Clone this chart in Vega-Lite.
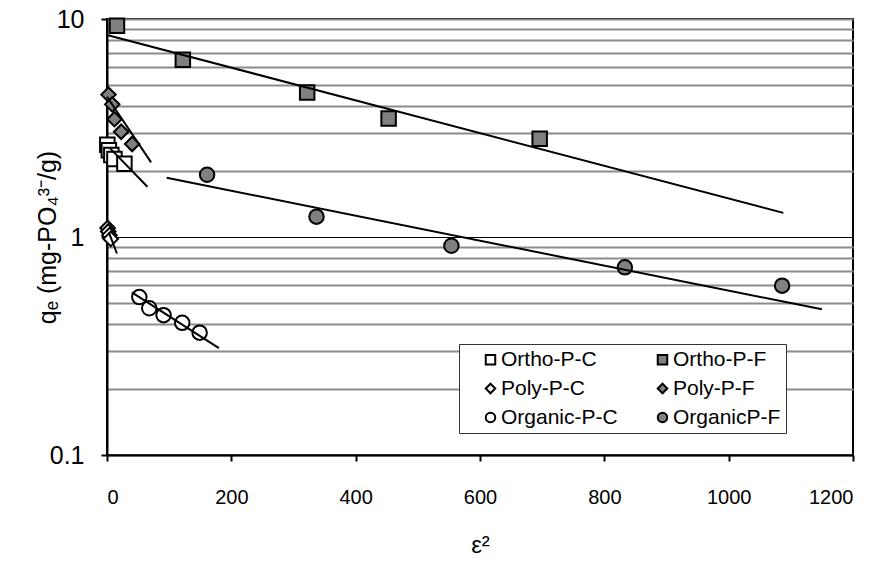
{
  "$schema": "https://vega.github.io/schema/vega-lite/v6.json",
  "width": 746,
  "height": 436,
  "autosize": "none",
  "padding": {"left": 107, "top": 19, "right": 40, "bottom": 119},
  "background": "white",
  "config": {
    "font": "Liberation Sans",
    "view": {"stroke": "black", "strokeWidth": 2},
    "axis": {"domainColor": "black", "domainWidth": 2, "tickColor": "black", "tickWidth": 2, "labelColor": "black", "titleColor": "black", "labelFont": "Liberation Sans", "titleFont": "Liberation Sans", "titleFontWeight": "normal"},
    "legend": {"title": "\u2800", "titleOrient": "right", "titleFontSize": 21, "titlePadding": 38, "titleColor": "white", "orient": "none", "legendX": 352, "legendY": 325, "direction": "horizontal", "columns": 2, "gridAlign": "all", "columnPadding": 18, "rowPadding": 7, "labelFontSize": 21, "labelColor": "black", "symbolSize": 90, "symbolStrokeWidth": 2, "symbolOffset": 16, "labelOffset": 0, "padding": 5, "strokeColor": "#333", "fillColor": "white", "cornerRadius": 0}
  },
  "datasets": {
    "pts": [
      {"series": "Ortho-P-C", "e2": 0.5, "qe": 2.65},
      {"series": "Ortho-P-C", "e2": 3, "qe": 2.5},
      {"series": "Ortho-P-C", "e2": 7, "qe": 2.38},
      {"series": "Ortho-P-C", "e2": 12, "qe": 2.28},
      {"series": "Ortho-P-C", "e2": 28, "qe": 2.17},
      {"series": "Ortho-P-F", "e2": 16, "qe": 9.3},
      {"series": "Ortho-P-F", "e2": 122, "qe": 6.5},
      {"series": "Ortho-P-F", "e2": 322, "qe": 4.6},
      {"series": "Ortho-P-F", "e2": 453, "qe": 3.5},
      {"series": "Ortho-P-F", "e2": 696, "qe": 2.82},
      {"series": "Poly-P-C", "e2": 1, "qe": 1.1},
      {"series": "Poly-P-C", "e2": 2, "qe": 1.06},
      {"series": "Poly-P-C", "e2": 4, "qe": 1.02},
      {"series": "Poly-P-C", "e2": 6, "qe": 0.98},
      {"series": "Poly-P-F", "e2": 2.4, "qe": 4.5},
      {"series": "Poly-P-F", "e2": 8.4, "qe": 4.06},
      {"series": "Poly-P-F", "e2": 12, "qe": 3.47},
      {"series": "Poly-P-F", "e2": 22.8, "qe": 3.04},
      {"series": "Poly-P-F", "e2": 40.5, "qe": 2.67},
      {"series": "Organic-P-C", "e2": 52, "qe": 0.53},
      {"series": "Organic-P-C", "e2": 68, "qe": 0.471},
      {"series": "Organic-P-C", "e2": 91, "qe": 0.438},
      {"series": "Organic-P-C", "e2": 121, "qe": 0.404},
      {"series": "Organic-P-C", "e2": 149, "qe": 0.364},
      {"series": "OrganicP-F", "e2": 161, "qe": 1.93},
      {"series": "OrganicP-F", "e2": 337, "qe": 1.24},
      {"series": "OrganicP-F", "e2": 554, "qe": 0.912},
      {"series": "OrganicP-F", "e2": 833, "qe": 0.726},
      {"series": "OrganicP-F", "e2": 1086, "qe": 0.598}
    ],
    "fits": [
      {"series": "Ortho-P-C", "e2": 5, "qe": 2.55},
      {"series": "Ortho-P-C", "e2": 65, "qe": 1.7},
      {"series": "Ortho-P-F", "e2": 0, "qe": 8.45},
      {"series": "Ortho-P-F", "e2": 1088, "qe": 1.29},
      {"series": "Poly-P-C", "e2": 3, "qe": 1.05},
      {"series": "Poly-P-C", "e2": 16, "qe": 0.84},
      {"series": "Poly-P-F", "e2": 0, "qe": 4.4},
      {"series": "Poly-P-F", "e2": 71, "qe": 2.2},
      {"series": "Organic-P-C", "e2": 40, "qe": 0.557},
      {"series": "Organic-P-C", "e2": 180, "qe": 0.309},
      {"series": "OrganicP-F", "e2": 96, "qe": 1.87},
      {"series": "OrganicP-F", "e2": 1150, "qe": 0.466}
    ]
  },
  "encoding": {
    "x": {
      "field": "e2", "type": "quantitative",
      "scale": {"domain": [0, 1200], "nice": false, "zero": false},
      "axis": {"values": [0, 200, 400, 600, 800, 1000, 1200], "format": "d", "grid": false, "title": "ε²", "titleFontSize": 24, "labelFontSize": 20, "tickSize": 6, "labelPadding": 26, "titlePadding": 26}
    },
    "y": {
      "field": "qe", "type": "quantitative",
      "scale": {"type": "log", "domain": [0.1, 10], "nice": false},
      "axis": {
        "values": [0.1, 0.2, 0.3, 0.4, 0.5, 0.6, 0.7, 0.8, 0.9, 1, 2, 3, 4, 5, 6, 7, 8, 9, 10],
        "format": "~g",
        "labelExpr": "(datum.value == 0.1 || datum.value == 1 || datum.value == 10) ? datum.label : ''",
        "grid": true,
        "gridColor": {"condition": {"test": "datum.value == 1", "value": "black"}, "value": "#8c8c8c"},
        "gridWidth": {"condition": {"test": "datum.value == 1", "value": 1}, "value": 2},
        "tickOpacity": {"condition": {"test": "datum.value == 0.1 || datum.value == 1 || datum.value == 10", "value": 1}, "value": 0},
        "tickSize": 6,
        "labelFontSize": 25,
        "labelPadding": 17,
        "title": "qₑ  (mg-PO₄³⁻/g)",
        "titleFontSize": 25,
        "titleX": -60,
        "titleBaseline": "middle"
      }
    }
  },
  "layer": [
    {
      "data": {"name": "pts"},
      "mark": {"type": "point", "filled": true, "size": 210, "strokeWidth": 2, "opacity": 1},
      "encoding": {
        "shape": {
          "field": "series", "type": "nominal",
          "scale": {"domain": ["Ortho-P-C", "Ortho-P-F", "Poly-P-C", "Poly-P-F", "Organic-P-C", "OrganicP-F"], "range": ["square", "square", "diamond", "diamond", "circle", "circle"]}
        },
        "fill": {
          "field": "series", "type": "nominal",
          "scale": {"domain": ["Ortho-P-C", "Ortho-P-F", "Poly-P-C", "Poly-P-F", "Organic-P-C", "OrganicP-F"], "range": ["white", "#808080", "white", "#808080", "white", "#808080"]}
        },
        "stroke": {
          "field": "series", "type": "nominal",
          "scale": {"domain": ["Ortho-P-C", "Ortho-P-F", "Poly-P-C", "Poly-P-F", "Organic-P-C", "OrganicP-F"], "range": ["black", "black", "black", "black", "black", "black"]}
        }
      }
    },
    {
      "data": {"name": "fits"},
      "mark": {"type": "line", "color": "black", "strokeWidth": 2},
      "encoding": {"detail": {"field": "series", "type": "nominal"}}
    }
  ]
}
